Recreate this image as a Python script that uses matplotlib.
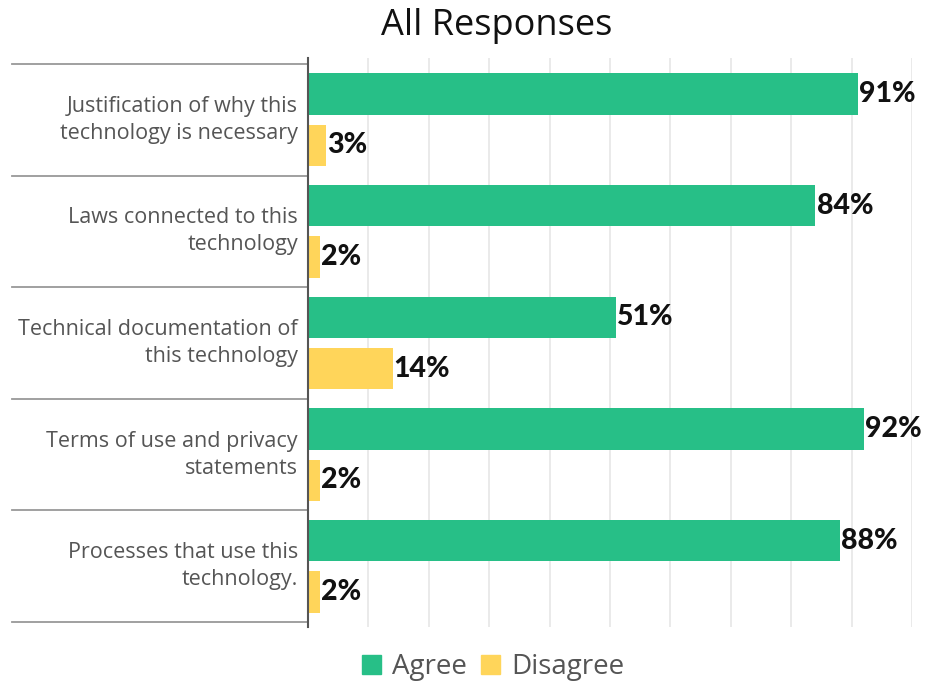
import numpy as np
import matplotlib.pyplot as plt
from matplotlib.patches import Patch

categories = [
    "Justification of why this\ntechnology is necessary",
    "Laws connected to this\ntechnology",
    "Technical documentation of\nthis technology",
    "Terms of use and privacy\nstatements",
    "Processes that use this\ntechnology.",
]
agree = [91, 84, 51, 92, 88]
disagree = [3, 2, 14, 2, 2]

GREEN = "#27bf87"
YELLOW = "#ffd55a"

W, H = 928, 681
fig = plt.figure(figsize=(W / 100, H / 100), dpi=100)
# axes box in pixels: left 308, right 912, top 58, bottom 627
ax = fig.add_axes([308 / W, 1 - 627 / H, (912 - 308) / W, (627 - 58) / H])

y = np.arange(len(categories))
bar_h = 0.37
off = 0.23
ax.barh(y - off, agree, height=bar_h, color=GREEN, zorder=3)
ax.barh(y + off, disagree, height=bar_h, color=YELLOW, zorder=3)

for yi, a, d in zip(y, agree, disagree):
    ax.text(a + 0.2, yi - off, f"{a}%", va="center", ha="left",
            fontsize=20.5, fontweight="black", family="Lato", color="#111111")
    ax.text(d + 0.2, yi + off, f"{d}%", va="center", ha="left",
            fontsize=20.5, fontweight="black", family="Lato", color="#111111")

pad = 6 / 111.6
ax.set_ylim(len(categories) - 0.5 + 5 / 111.6, -0.5 - pad)
ax.set_xlim(0, 100)
ax.set_xticks(np.arange(0, 101, 10))
ax.grid(axis="x", color="#e6e6e6", linewidth=1.2, zorder=0)
ax.tick_params(axis="x", length=0, labelbottom=False)
ax.tick_params(axis="y", length=0, labelleft=False)
for s in ["top", "right", "bottom"]:
    ax.spines[s].set_visible(False)
ax.spines["left"].set_color("#555555")
ax.spines["left"].set_linewidth(1.5)
ax.spines["left"].set_zorder(4)

# category separators reaching into the label area
left_ext = -(308 - 12) / (912 - 308)
for b in np.arange(-0.5, len(categories), 1.0):
    ax.plot([left_ext, 0], [b, b], transform=ax.get_yaxis_transform(),
            color="#999999", linewidth=1.3, clip_on=False)

for yi, lab in zip(y, categories):
    ax.text(-10 / (912 - 308), yi, lab, transform=ax.get_yaxis_transform(),
            ha="right", va="center", fontsize=15.5, family="Open Sans",
            color="#555555", linespacing=1.38)

fig.text(497 / W, 1 - 26 / H, "All Responses", ha="center", va="center",
         fontsize=26, family="Open Sans", color="#111111")

handles = [Patch(color=GREEN, label="Agree"), Patch(color=YELLOW, label="Disagree")]
fig.legend(handles=handles, loc="center", bbox_to_anchor=(493 / W, 1 - 667 / H),
           ncol=2, frameon=False, handlelength=0.7, handleheight=0.7,
           handletextpad=0.4, columnspacing=0.5,
           prop={"family": "Open Sans", "size": 20}, labelcolor="#555555")

fig.savefig("out.png", dpi=100)
